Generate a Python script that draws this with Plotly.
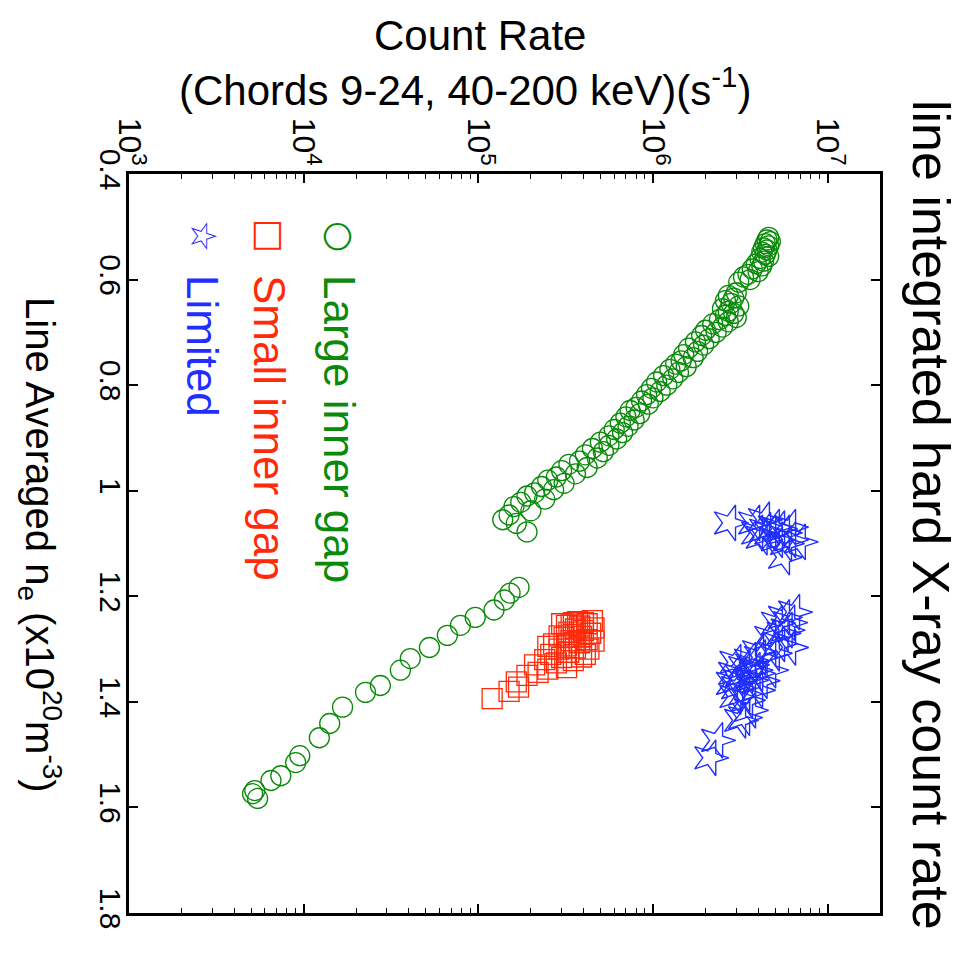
import plotly.graph_objects as go

# ---------------- data ----------------
# Large inner gap (green circles): density (1e20 m^-3), count rate (s^-1)
large_ne = [0.520, 0.525, 0.528, 0.532, 0.536, 0.540, 0.544, 0.548, 0.552, 0.556,
            0.560, 0.565, 0.570, 0.574, 0.580, 0.585, 0.590, 0.595, 0.600, 0.605,
            0.625, 0.630, 0.635, 0.640, 0.645, 0.650, 0.655, 0.660, 0.664, 0.668,
            0.672, 0.676, 0.680, 0.684, 0.690, 0.696, 0.700, 0.706, 0.712, 0.718,
            0.724, 0.730, 0.736, 0.742, 0.748, 0.754, 0.760, 0.765, 0.770, 0.776,
            0.782, 0.788, 0.794, 0.800, 0.806, 0.812, 0.818, 0.824, 0.830, 0.836,
            0.842, 0.848, 0.854, 0.860, 0.866, 0.872, 0.878, 0.884, 0.890, 0.896,
            0.902, 0.908, 0.914, 0.920, 0.926, 0.932, 0.938, 0.944, 0.950, 0.956,
            0.962, 0.968, 0.974, 0.980, 0.986, 0.992, 0.998, 1.004, 1.010, 1.016,
            1.022, 1.030, 1.038, 1.046, 1.055, 1.062, 1.078,
            1.183, 1.194, 1.207, 1.226, 1.240, 1.255, 1.274, 1.297, 1.318, 1.340,
            1.369, 1.382, 1.410, 1.441, 1.468, 1.502, 1.515, 1.540, 1.549, 1.568,
            1.574, 1.583]
large_rate = [4.6e6, 4.5e6, 4.7e6, 4.4e6, 4.6e6, 4.3e6, 4.5e6, 4.2e6, 4.4e6, 4.6e6,
              4.1e6, 4.3e6, 3.9e6, 4.2e6, 3.7e6, 4.0e6, 3.5e6, 3.3e6, 3.6e6, 3.1e6,
              3.0e6, 2.7e6, 2.9e6, 2.6e6, 2.8e6, 3.1e6, 2.5e6, 2.7e6, 2.9e6, 2.6e6,
              3.0e6, 2.4e6, 2.7e6, 2.2e6, 2.5e6, 2.0e6, 2.3e6, 1.9e6, 2.1e6, 1.75e6,
              1.95e6, 1.6e6, 1.8e6, 1.5e6, 1.7e6, 1.45e6, 1.35e6, 1.55e6, 1.25e6, 1.4e6,
              1.15e6, 1.3e6, 1.05e6, 1.2e6, 9.8e5, 1.1e6, 9.2e5, 1.0e6, 8.6e5, 9.4e5,
              8.0e5, 7.4e5, 8.4e5, 7.0e5, 7.8e5, 6.5e5, 7.2e5, 6.0e5, 6.7e5, 5.6e5,
              6.2e5, 5.0e5, 5.6e5, 4.5e5, 5.2e5, 4.1e5, 4.8e5, 3.8e5, 3.3e5, 4.2e5,
              3.0e5, 3.6e5, 2.8e5, 2.5e5, 3.1e5, 2.3e5, 2.7e5, 2.1e5, 1.9e5, 2.4e5,
              1.75e5, 1.6e5, 2.0e5, 1.5e5, 1.38e5, 1.65e5, 1.9e5,
              1.71e5, 1.52e5, 1.41e5, 1.23e5, 9.6e4, 7.9e4, 6.65e4, 5.25e4, 4.08e4, 3.58e4,
              2.75e4, 2.26e4, 1.67e4, 1.41e4, 1.23e4, 9.5e3, 9.0e3, 7.4e3, 6.5e3, 5.25e3,
              5.1e3, 5.45e3]

# Small inner gap (red squares)
small_ne = [1.394, 1.380, 1.372, 1.362, 1.350, 1.344, 1.338, 1.330, 1.326, 1.320,
            1.316, 1.310, 1.306, 1.300, 1.298, 1.294, 1.290, 1.288, 1.284, 1.282,
            1.278, 1.276, 1.272, 1.270, 1.268, 1.265, 1.262, 1.260, 1.258, 1.255,
            1.252, 1.250, 1.246, 1.248, 1.252, 1.250, 1.254, 1.256, 1.300, 1.285,
            1.315, 1.322, 1.335, 1.310, 1.295, 1.275]
small_rate = [1.2e5, 1.5e5, 1.7e5, 1.65e5, 1.9e5, 2.2e5, 2.5e5, 2.1e5, 2.8e5, 2.4e5,
              3.0e5, 2.6e5, 3.3e5, 2.9e5, 3.6e5, 3.2e5, 2.7e5, 3.8e5, 3.4e5, 4.2e5,
              3.1e5, 3.9e5, 3.5e5, 4.4e5, 3.3e5, 4.0e5, 3.6e5, 4.6e5, 3.8e5, 3.2e5,
              4.2e5, 3.5e5, 4.5e5, 3.7e5, 3.0e5, 4.0e5, 3.4e5, 3.8e5, 4.3e5, 4.6e5,
              3.9e5, 3.5e5, 3.2e5, 4.1e5, 2.5e5, 2.9e5]

# Limited (blue stars)
limited_ne = [1.061, 1.061, 1.055, 1.069, 1.080, 1.093, 1.097, 1.093, 1.126, 1.080,
              1.080, 1.069, 1.072, 1.088, 1.075, 1.100,
              1.230, 1.240, 1.251, 1.264, 1.278, 1.297, 1.308, 1.316, 1.321, 1.335,
              1.346, 1.346, 1.340, 1.359, 1.373, 1.378, 1.397, 1.416, 1.430, 1.435,
              1.473, 1.506, 1.330, 1.350, 1.360, 1.325, 1.365, 1.290, 1.305, 1.385,
              1.340, 1.270, 1.250, 1.360, 1.390]
limited_rate = [2.75e6, 3.78e6, 4.3e6, 4.9e6, 5.6e6, 6.07e6, 6.9e6, 5.1e6, 5.6e6, 4.67e6,
                3.93e6, 6.07e6, 5.25e6, 4.17e6, 4.37e6, 5.75e6,
                6.4e6, 5.6e6, 5.1e6, 5.8e6, 4.67e6, 6.07e6, 4.9e6, 4.08e6, 3.58e6, 3.31e6,
                2.9e6, 3.93e6, 4.67e6, 3.58e6, 3.02e6, 3.93e6, 3.44e6, 3.58e6, 3.31e6, 3.14e6,
                2.32e6, 2.12e6, 3.63e6, 3.16e6, 4.17e6, 2.95e6, 2.82e6, 5.25e6, 3.98e6, 3.31e6,
                3.8e6, 5.5e6, 6.0e6, 3.09e6, 2.95e6]

series_names = ["Large inner gap", "Small inner gap", "Limited"]
x_tickvals = [1e3, 1e4, 1e5, 1e6, 1e7]
x_ticktext = ["10<sup>3</sup>", "10<sup>4</sup>", "10<sup>5</sup>", "10<sup>6</sup>", "10<sup>7</sup>"]
y_tickvals = [0.4, 0.6, 0.8, 1.0, 1.2, 1.4, 1.6, 1.8]
y_ticktext = ["0.4", "0.6", "0.8", "1", "1.2", "1.4", "1.6", "1.8"]

GREEN = "#0a8a0a"
RED = "#ff2a0a"
BLUE = "#1f2fff"
FONT = "Liberation Sans, Arial, sans-serif"

fig = go.Figure()
fig.add_trace(go.Scatter(x=large_rate, y=large_ne, mode="markers", name=series_names[0],
                         marker=dict(symbol="circle-open", size=20, color=GREEN,
                                     line=dict(width=1.3, color=GREEN))))
fig.add_trace(go.Scatter(x=small_rate, y=small_ne, mode="markers", name=series_names[1],
                         marker=dict(symbol="square-open", size=20, color=RED,
                                     line=dict(width=1.3, color=RED))))
fig.add_trace(go.Scatter(x=limited_rate, y=limited_ne, mode="markers", name=series_names[2],
                         marker=dict(symbol="star-open", size=27, angle=90, color=BLUE,
                                     line=dict(width=1.4, color=BLUE))))

W, H = 969, 958
L, R, T, B = 129, 880, 174, 913


def px(xp):
    return (xp - L) / (R - L)


def py(yp):
    return 1 - (yp - T) / (B - T)


def ann(text, x, y, size, color="black", angle=0, yanchor="middle", family=FONT):
    return dict(text=text, x=px(x), y=py(y), xref="paper", yref="paper",
                xanchor="center", yanchor=yanchor, showarrow=False, textangle=angle,
                font=dict(size=size, color=color, family=family))


annotations = [
    ann("Count Rate", 480, 36, 42),
    ann("(Chords 9-24, 40-200 keV)(s<sup>-1</sup>)", 465, 87, 42),
    ann("Line Averaged n<sub>e</sub> (x10<sup>20</sup>m<sup>-3</sup>)", 40, 545, 40, angle=90),
    ann("line integrated hard X-ray count rate", 931, 515, 52, angle=90),
]
# in-plot legend
legend_specs = [(340, "○", GREEN, series_names[0]),
                (270, "□", RED, series_names[1]),
                (203, "☆", BLUE, series_names[2])]
for xpix, sym, col, name in legend_specs:
    annotations.append(ann(sym, xpix, 236, 36, color=col, angle=90, family="DejaVu Sans"))
    annotations.append(ann(name, xpix, 273, 44, color=col, angle=90, yanchor="top"))

fig.update_layout(
    width=W, height=H,
    margin=dict(l=L, r=W - R, t=T, b=H - B, pad=0),
    paper_bgcolor="white", plot_bgcolor="white",
    showlegend=False,
    annotations=annotations,
    font=dict(family=FONT, color="black"),
)
fig.update_xaxes(type="log", range=[3, 7.30], side="top",
                 tickvals=x_tickvals, ticktext=x_ticktext, tickangle=90,
                 ticklabelstandoff=-6,
                 ticks="inside", ticklen=9, tickwidth=1.5, tickcolor="black",
                 minor=dict(ticks="inside", ticklen=5, tickwidth=1, tickcolor="black", dtick="D1"),
                 tickfont=dict(size=32, family=FONT, color="black"),
                 showline=True, linewidth=3, linecolor="black", mirror="ticks",
                 showgrid=False, zeroline=False)
fig.update_yaxes(range=[1.8, 0.4], tickvals=y_tickvals, ticktext=y_ticktext, tickangle=90,
                 ticklabelstandoff=-10,
                 ticks="inside", ticklen=9, tickwidth=1.5, tickcolor="black",
                 tickfont=dict(size=30, family=FONT, color="black"),
                 showline=True, linewidth=3, linecolor="black", mirror="ticks",
                 showgrid=False, zeroline=False)

fig.write_html("out.html")
